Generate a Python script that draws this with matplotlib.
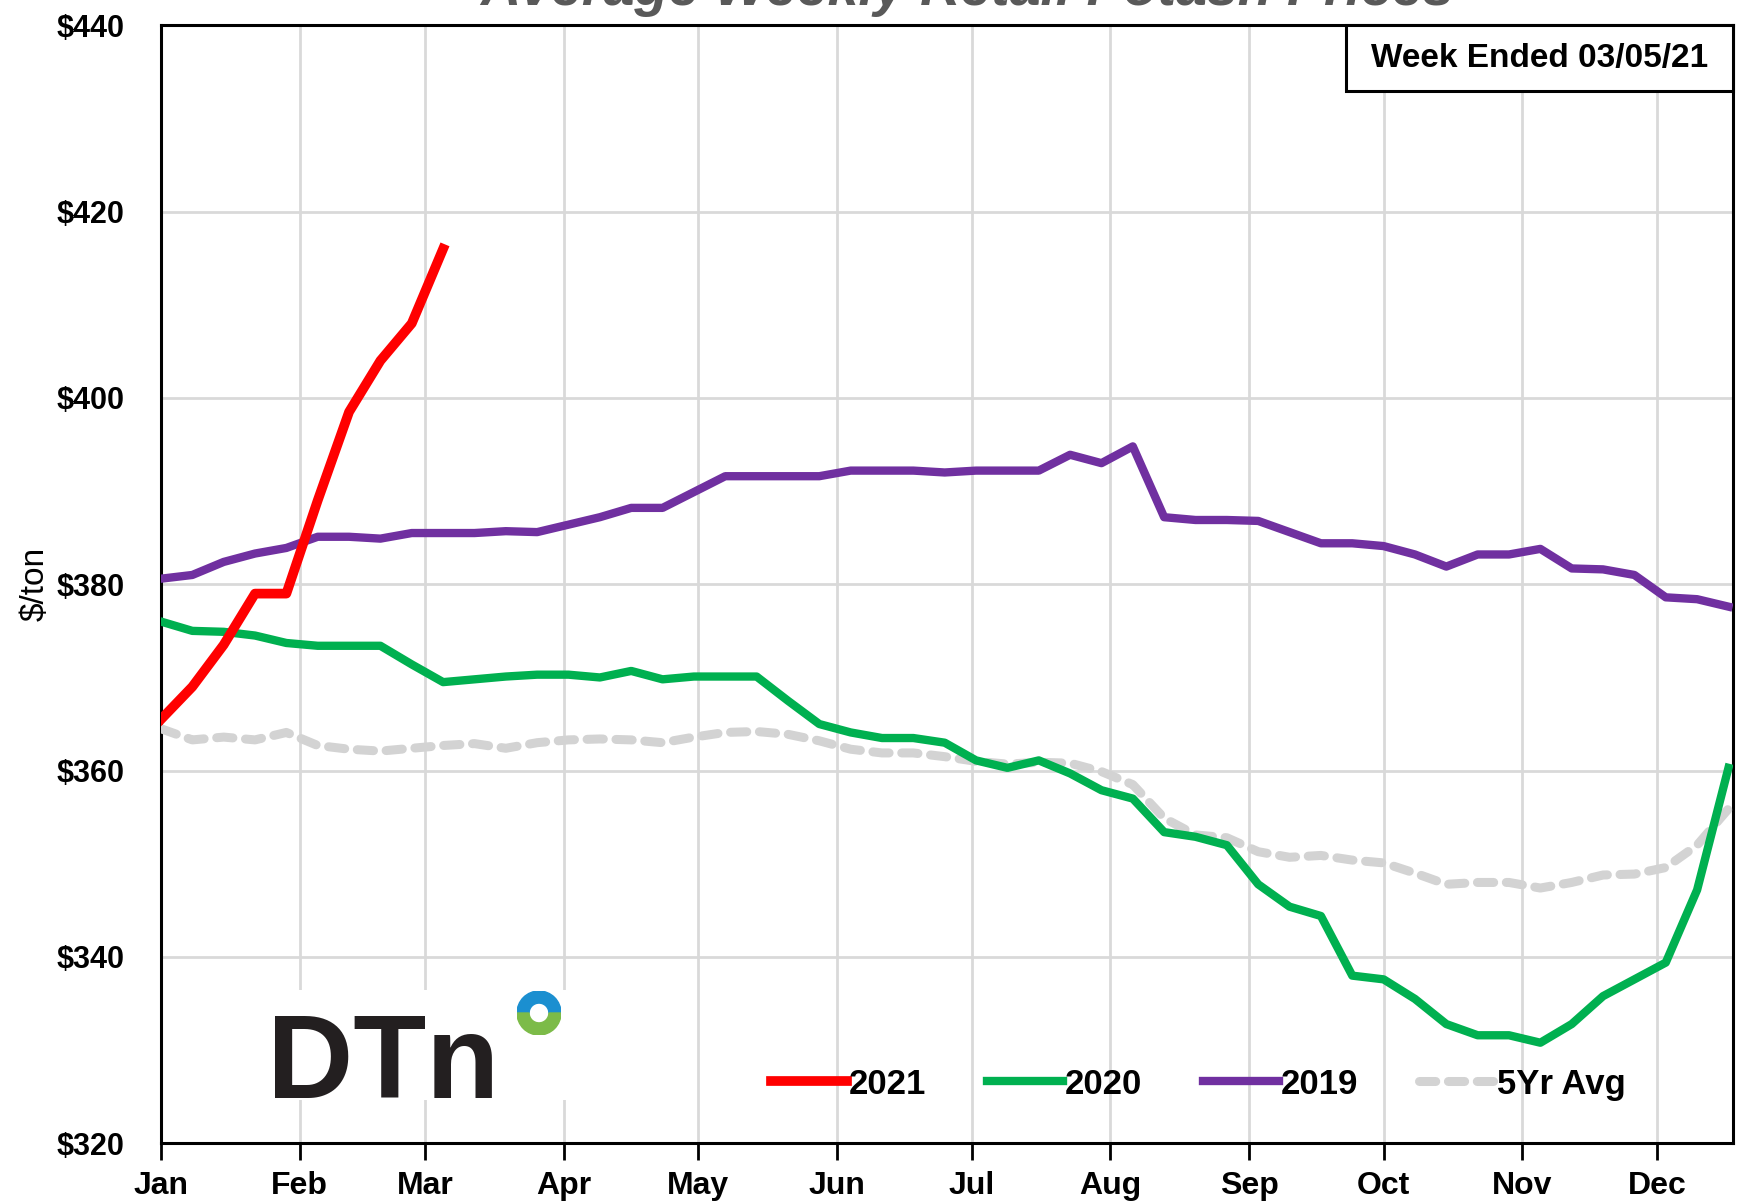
"""Average weekly retail potash prices, DTN style line chart."""

import matplotlib
matplotlib.use("Agg")
import matplotlib.pyplot as plt
import numpy as np
from matplotlib.patches import Rectangle, Wedge

plt.rcParams["font.family"] = ["Liberation Sans", "DejaVu Sans"]

# ---- data ----
months = ["Jan", "Feb", "Mar", "Apr", "May", "Jun",
          "Jul", "Aug", "Sep", "Oct", "Nov", "Dec"]
month_start_day = [0, 31, 59, 90, 120, 151, 181, 212, 243, 273, 304, 334]

price_2021 = [365.5, 369, 373.5, 379, 379, 389, 398.5, 404, 408, 416]

price_2020 = [376, 375, 374.9, 374.5, 373.7, 373.4, 373.4, 373.4, 371.4, 369.5,
              369.8, 370.1, 370.3, 370.3, 370, 370.7, 369.8, 370.1, 370.1, 370.1,
              367.5, 365, 364.1, 363.5, 363.5, 363, 361.1, 360.3, 361.1, 359.7,
              357.9, 357, 353.4, 352.9, 352, 347.8, 345.4, 344.4, 338, 337.6,
              335.5, 332.8, 331.6, 331.6, 330.8, 332.8, 335.8, 337.6, 339.4, 347.2,
              360.3]

price_2019 = [380.6, 381, 382.4, 383.3, 383.9, 385.1, 385.1, 384.9, 385.5, 385.5,
              385.5, 385.7, 385.6, 386.4, 387.2, 388.2, 388.2, 389.9, 391.6, 391.6,
              391.6, 391.6, 392.2, 392.2, 392.2, 392, 392.2, 392.2, 392.2, 393.9,
              393, 394.8, 387.2, 386.9, 386.9, 386.8, 385.6, 384.4, 384.4, 384.1,
              383.2, 381.9, 383.2, 383.2, 383.8, 381.7, 381.6, 381, 378.6, 378.4,
              377.6]

price_5yr = [364.5, 363.3, 363.6, 363.3, 364.1, 362.7, 362.3, 362.1, 362.4, 362.7,
             362.9, 362.4, 363, 363.3, 363.4, 363.3, 363, 363.6, 364.1, 364.2,
             363.9, 363.2, 362.3, 361.9, 361.9, 361.5, 361, 360.7, 360.9, 360.8,
             359.9, 358.5, 354.9, 353.1, 352.8, 351.3, 350.7, 350.9, 350.4, 350.1,
             349, 347.8, 348, 348, 347.4, 348, 348.8, 348.9, 349.6, 352, 355.9]

week_ended = "Week Ended 03/05/21"


def week_days(n):
    # weekly observations, x measured in days from Jan 1
    return np.arange(n) * 7


def main():
    fig = plt.figure(figsize=(17.42, 12.01), dpi=100)
    ax = fig.add_axes([0.0924, 0.048, 0.9024, 0.931])

    ax.plot(week_days(len(price_5yr)), price_5yr, color="#d3d3d3", lw=6.5,
            dashes=(1.8, 1.4), dash_capstyle="round", label="5Yr Avg", zorder=3)
    ax.plot(week_days(len(price_2019)), price_2019, color="#7030a0", lw=6,
            label="2019", zorder=4)
    ax.plot(week_days(len(price_2020)), price_2020, color="#00b050", lw=6,
            label="2020", zorder=5)
    ax.plot(week_days(len(price_2021)), price_2021, color="#ff0000", lw=7,
            label="2021", zorder=6)

    ax.set_xlim(0, 351)
    ax.set_ylim(320, 440)
    ax.set_xticks(month_start_day)
    ax.set_xticklabels(months, fontsize=23, fontweight="bold")
    ax.set_yticks(np.arange(320, 441, 20))
    ax.set_yticklabels([f"${v}" for v in range(320, 441, 20)],
                       fontsize=22, fontweight="bold")
    ax.tick_params(axis="x", length=12, width=2, pad=8)
    ax.tick_params(axis="y", length=0, pad=26)
    ax.grid(True, color="#d9d9d9", lw=2)
    ax.set_axisbelow(True)
    for sp in ax.spines.values():
        sp.set_linewidth(2.2)
    ax.set_ylabel("$/ton", fontsize=24, labelpad=4)

    handles, labels = ax.get_legend_handles_labels()
    order = [3, 2, 1, 0]
    leg = ax.legend([handles[i] for i in order], [labels[i] for i in order],
                    loc="center left", bbox_to_anchor=(0.368, 0.053), ncol=4,
                    frameon=False, fontsize=25, handlelength=2.2,
                    handletextpad=0.05, columnspacing=1.75)
    for t in leg.get_texts():
        t.set_fontweight("bold")

    # week-ended box in top right corner
    ax.add_patch(Rectangle((0.754, 0.941), 0.246, 0.059, transform=ax.transAxes,
                           facecolor="white", edgecolor="black", lw=2.2,
                           zorder=7, clip_on=False))
    ax.text(0.877, 0.9705, week_ended, transform=ax.transAxes, ha="center",
            va="center", fontsize=24, fontweight="bold", zorder=8)

    # title clipped by the top edge of the image
    fig.text(0.555, 1 - 5 / 1201, "Average Weekly Retail Potash Prices",
             ha="center", va="baseline", fontsize=40, fontweight="bold",
             fontstyle="italic", color="#595959")

    # DTN logo on a white patch
    fig.patches.append(Rectangle((230 / 1742, 1 - 1100 / 1201), 350 / 1742,
                                 110 / 1201, transform=fig.transFigure,
                                 facecolor="white", edgecolor="none", zorder=2))
    fig.text(267 / 1742, 1 - 1098 / 1201, "DTn", fontsize=86,
             fontweight="bold", color="#231f20", zorder=3)
    lax = fig.add_axes([(539 - 22) / 1742, (1201 - 1013 - 22) / 1201,
                        44 / 1742, 44 / 1201])
    lax.set_zorder(5)
    lax.set_xlim(-1, 1)
    lax.set_ylim(-1, 1)
    lax.axis("off")
    lax.add_patch(Wedge((0, 0), 1, 0, 180, width=0.55, color="#1b8fd0"))
    lax.add_patch(Wedge((0, 0), 1, 180, 360, width=0.55, color="#7cbb48"))

    fig.savefig("out.png", dpi=100)


if __name__ == "__main__":
    main()
